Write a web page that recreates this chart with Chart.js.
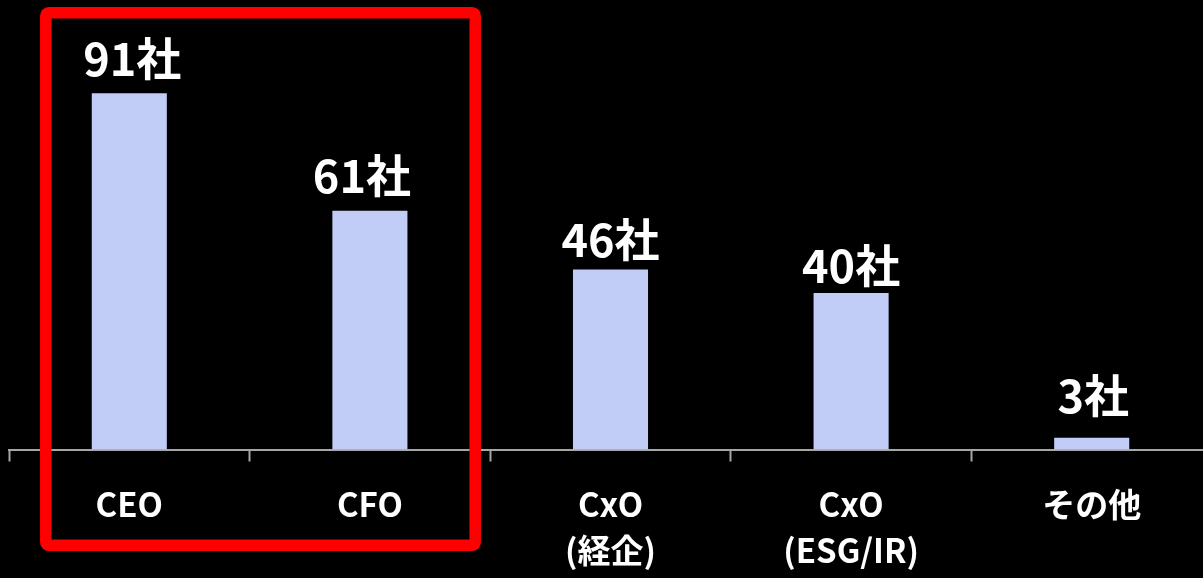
<!DOCTYPE html>
<html>
<head>
<meta charset="utf-8">
<script src="https://cdn.jsdelivr.net/npm/chart.js@4/dist/chart.umd.min.js"></script>
<style>
  html, body { margin: 0; padding: 0; background: #000; overflow: hidden; }
  #wrap { width: 1212px; height: 578px; }
</style>
</head>
<body>
<div id="wrap"><canvas id="c" width="1212" height="578"></canvas></div>
<script>
// Number of companies per role
const categories = [['CEO'], ['CFO'], ['CxO', '(経企)'], ['CxO', '(ESG/IR)'], ['その他']];
const companyCounts = [91, 61, 46, 40, 3];
const unitSuffix = '社';

const FONT = '"Noto Sans CJK JP", "Noto Sans", sans-serif';

// Hand placement of each value label: [dx, gap above bar top] in px
const labelPlacement = [[3, 17], [-8, 18], [0, 12.5], [0, 10], [1.5, 24.5]];

// Value labels above each bar
const valueLabels = {
  id: 'valueLabels',
  afterDatasetsDraw(chart) {
    const ctx = chart.ctx;
    const meta = chart.getDatasetMeta(0);
    ctx.save();
    ctx.fillStyle = '#ffffff';
    ctx.font = 'bold 45px ' + FONT;
    ctx.textAlign = 'center';
    ctx.textBaseline = 'alphabetic';
    meta.data.forEach((bar, i) => {
      const [dx, gap] = labelPlacement[i];
      ctx.fillText(companyCounts[i] + unitSuffix, bar.x + dx, bar.y - gap);
    });
    ctx.restore();
  }
};

// Highlight frame around the first two roles
const highlightFrame = {
  id: 'highlightFrame',
  afterDraw(chart) {
    const ctx = chart.ctx;
    const x0 = 45.8, y0 = 12.8, x1 = 475.2, y1 = 545.2, r = 3;
    ctx.save();
    ctx.strokeStyle = '#ff0000';
    ctx.lineWidth = 11.5;
    ctx.beginPath();
    ctx.roundRect(x0, y0, x1 - x0, y1 - y0, r);
    ctx.stroke();
    ctx.restore();
  }
};

new Chart(document.getElementById('c'), {
  type: 'bar',
  data: {
    labels: categories,
    datasets: [{
      data: companyCounts,
      backgroundColor: '#C1CDF6',
      borderWidth: 0,
      categoryPercentage: 1,
      barPercentage: 0.312
    }]
  },
  options: {
    responsive: false,
    animation: false,
    layout: { padding: { left: 9, right: 0, top: 58, bottom: 0 } },
    plugins: { legend: { display: false }, tooltip: { enabled: false } },
    scales: {
      y: { display: false, min: 0, max: 100 },
      x: {
        offset: true,
        afterFit(scale) { scale.height = 128.5; },
        grid: {
          display: true,
          offset: true,
          drawOnChartArea: false,
          drawTicks: true,
          tickLength: 12,
          tickWidth: 2,
          tickColor: '#A6A6A6'
        },
        border: { display: true, color: '#A6A6A6', width: 2 },
        ticks: {
          color: '#ffffff',
          padding: 20,
          maxRotation: 0,
          autoSkip: false,
          font: { family: FONT, size: 33, weight: 'bold', lineHeight: 1.4 }
        }
      }
    }
  },
  plugins: [valueLabels, highlightFrame]
});
</script>
</body>
</html>
